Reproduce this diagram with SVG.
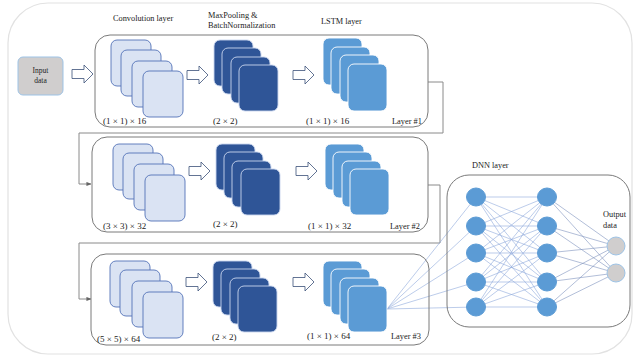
<svg xmlns="http://www.w3.org/2000/svg" xmlns:xlink="http://www.w3.org/1999/xlink" width="634" height="357" viewBox="0 0 634 357">
<style>
text{font-family:"Liberation Serif","Times New Roman",serif;fill:#222}
.t{font-size:8.3px}
.d{font-size:9px}
.l{font-size:8.4px}
.box{fill:none;stroke:#7a7a7a;stroke-width:1}
.conv{fill:#dae3f3;stroke:#5473b8;stroke-width:0.9}
.mp{fill:#2f5597;stroke:#c9d6ee;stroke-width:0.9}
.ls{fill:#5b9bd5;stroke:#ffffff;stroke-width:0.9}
.barr{fill:#fff;stroke:#3b5078;stroke-width:0.8}
.con{fill:none;stroke:#8a8a8a;stroke-width:1}
.nn{stroke:#8eaadb;stroke-width:0.6;fill:none}
.node{fill:#5b9bd5;stroke:#5b9bd5}
.out{fill:#d0cece;stroke:#9dc3e6;stroke-width:1}
</style>
<defs>
<path id="ba" class="barr" d="M0,4.5 H12 V0 L21,9 L12,18 V13.5 H0 Z"/>
<marker id="ah" viewBox="0 0 6 6" refX="5.5" refY="3" markerWidth="5" markerHeight="5" orient="auto" markerUnits="userSpaceOnUse"><path d="M0,0.5 L6,3 L0,5.5 Z" fill="#666"/></marker>
</defs>
<rect x="8" y="3" width="624" height="351" rx="40" fill="#fff" stroke="#e2e2e2" stroke-width="1.2"/>

<g id="connectors">
<path class="con" d="M428,82 H443 V133 H79 V184 H91" marker-end="url(#ah)"/>
<path class="con" d="M428,185 H440 V243 H79 V299 H91" marker-end="url(#ah)"/>
<g class="nn">
<path d="M387,309 L476,197 M387,309 L476,226 M387,309 L476,253 M387,309 L476,282 M387,309 L476,307"/>
<path d="M476,197 L547,197 M476,197 L547,226 M476,197 L547,253 M476,197 L547,282 M476,197 L547,307
M476,226 L547,197 M476,226 L547,226 M476,226 L547,253 M476,226 L547,282 M476,226 L547,307
M476,253 L547,197 M476,253 L547,226 M476,253 L547,253 M476,253 L547,282 M476,253 L547,307
M476,282 L547,197 M476,282 L547,226 M476,282 L547,253 M476,282 L547,282 M476,282 L547,307
M476,307 L547,197 M476,307 L547,226 M476,307 L547,253 M476,307 L547,282 M476,307 L547,307"/>
<path d="M547,197 L616,246 M547,197 L616,273 M547,226 L616,246 M547,226 L616,273 M547,253 L616,246 M547,253 L616,273 M547,282 L616,246 M547,282 L616,273 M547,307 L616,246 M547,307 L616,273" stroke="#7d92bd"/>
</g>
</g>

<g id="input">
<rect x="18" y="57" width="45" height="38" rx="5" fill="#d0cece" stroke="#9dc3e6" stroke-width="1"/>
<text x="40.5" y="73" text-anchor="middle" style="font-size:7.5px">Input</text>
<text x="40.5" y="83" text-anchor="middle" style="font-size:7.5px">data</text>
<use xlink:href="#ba" x="72" y="65"/>
</g>

<text x="113" y="21" class="t">Convolution layer</text>
<text x="208" y="18" class="t">MaxPooling &amp;</text>
<text x="208" y="28" class="t">BatchNormalization</text>
<text x="321" y="24" class="t">LSTM layer</text>

<g id="layer1">
<rect class="box" x="95" y="35" width="333" height="92" rx="15"/>
<rect class="conv" x="111" y="40" width="40" height="46" rx="6"/>
<rect class="conv" x="121" y="50" width="40" height="46" rx="6"/>
<rect class="conv" x="132" y="61" width="40" height="46" rx="6"/>
<rect class="conv" x="143" y="71" width="40" height="46" rx="6"/>
<use xlink:href="#ba" x="187" y="66"/>
<rect class="mp" x="214" y="40" width="39" height="46" rx="6"/>
<rect class="mp" x="222" y="48" width="39" height="46" rx="6"/>
<rect class="mp" x="231" y="57" width="39" height="46" rx="6"/>
<rect class="mp" x="239" y="65" width="39" height="46" rx="6"/>
<use xlink:href="#ba" x="293" y="66"/>
<rect class="ls" x="323" y="38" width="39" height="47" rx="6"/>
<rect class="ls" x="331" y="47" width="39" height="47" rx="6"/>
<rect class="ls" x="340" y="55" width="39" height="47" rx="6"/>
<rect class="ls" x="348" y="64" width="39" height="47" rx="6"/>
<text x="103" y="124" class="d">(1 × 1) × 16</text>
<text x="213" y="124" class="d">(2 × 2)</text>
<text x="306" y="124" class="d">(1 × 1) × 16</text>
<text x="392" y="124" class="l">Layer #1</text>
</g>

<g id="layer2">
<rect class="box" x="92" y="137" width="336" height="95" rx="15"/>
<rect class="conv" x="113" y="144" width="40" height="46" rx="6"/>
<rect class="conv" x="123" y="153" width="40" height="46" rx="6"/>
<rect class="conv" x="134" y="164" width="40" height="46" rx="6"/>
<rect class="conv" x="145" y="175" width="40" height="46" rx="6"/>
<use xlink:href="#ba" x="189" y="162"/>
<rect class="mp" x="216" y="144" width="39" height="46" rx="6"/>
<rect class="mp" x="224" y="152" width="39" height="46" rx="6"/>
<rect class="mp" x="232" y="161" width="39" height="46" rx="6"/>
<rect class="mp" x="241" y="169" width="39" height="46" rx="6"/>
<use xlink:href="#ba" x="296" y="162"/>
<rect class="ls" x="325" y="144" width="39" height="46" rx="6"/>
<rect class="ls" x="333" y="152" width="39" height="46" rx="6"/>
<rect class="ls" x="342" y="161" width="39" height="46" rx="6"/>
<rect class="ls" x="350" y="169" width="39" height="46" rx="6"/>
<text x="103" y="229" class="d">(3 × 3) × 32</text>
<text x="213" y="227" class="d">(2 × 2)</text>
<text x="308" y="229" class="d">(1 × 1) × 32</text>
<text x="390" y="229" class="l">Layer #2</text>
</g>

<g id="layer3">
<rect class="box" x="91" y="254" width="338" height="91" rx="15"/>
<rect class="conv" x="110" y="261" width="40" height="46" rx="6"/>
<rect class="conv" x="120" y="270" width="40" height="46" rx="6"/>
<rect class="conv" x="132" y="281" width="40" height="46" rx="6"/>
<rect class="conv" x="143" y="292" width="40" height="46" rx="6"/>
<use xlink:href="#ba" x="186" y="273"/>
<rect class="mp" x="213" y="261" width="39" height="46" rx="6"/>
<rect class="mp" x="221" y="269" width="39" height="46" rx="6"/>
<rect class="mp" x="230" y="278" width="39" height="46" rx="6"/>
<rect class="mp" x="238" y="286" width="39" height="46" rx="6"/>
<use xlink:href="#ba" x="293" y="273"/>
<rect class="ls" x="323" y="261" width="39" height="46" rx="6"/>
<rect class="ls" x="331" y="269" width="39" height="46" rx="6"/>
<rect class="ls" x="340" y="278" width="39" height="46" rx="6"/>
<rect class="ls" x="348" y="286" width="39" height="46" rx="6"/>
<text x="97" y="342" class="d">(5 × 5) × 64</text>
<text x="212" y="340" class="d">(2 × 2)</text>
<text x="307" y="339" class="d">(1 × 1) × 64</text>
<text x="391" y="339" class="l">Layer #3</text>
</g>

<g id="dnn">
<rect class="box" x="447" y="175" width="183" height="152" rx="22"/>
<text x="472" y="168" class="t">DNN layer</text>
<ellipse class="node" cx="476" cy="197" rx="9.5" ry="9"/>
<ellipse class="node" cx="476" cy="226" rx="9.5" ry="9"/>
<ellipse class="node" cx="476" cy="253" rx="9.5" ry="9"/>
<ellipse class="node" cx="476" cy="282" rx="9.5" ry="9"/>
<ellipse class="node" cx="476" cy="307" rx="9.5" ry="9"/>
<ellipse class="node" cx="547" cy="197" rx="9.5" ry="9"/>
<ellipse class="node" cx="547" cy="226" rx="9.5" ry="9"/>
<ellipse class="node" cx="547" cy="253" rx="9.5" ry="9"/>
<ellipse class="node" cx="547" cy="282" rx="9.5" ry="9"/>
<ellipse class="node" cx="547" cy="307" rx="9.5" ry="9"/>
</g>
<g id="output">
<ellipse class="out" cx="616" cy="246" rx="9" ry="9"/>
<ellipse class="out" cx="616" cy="273" rx="9" ry="9"/>
<text x="603" y="217" class="t">Output</text>
<text x="603" y="228" class="t">data</text>
</g>
</svg>
